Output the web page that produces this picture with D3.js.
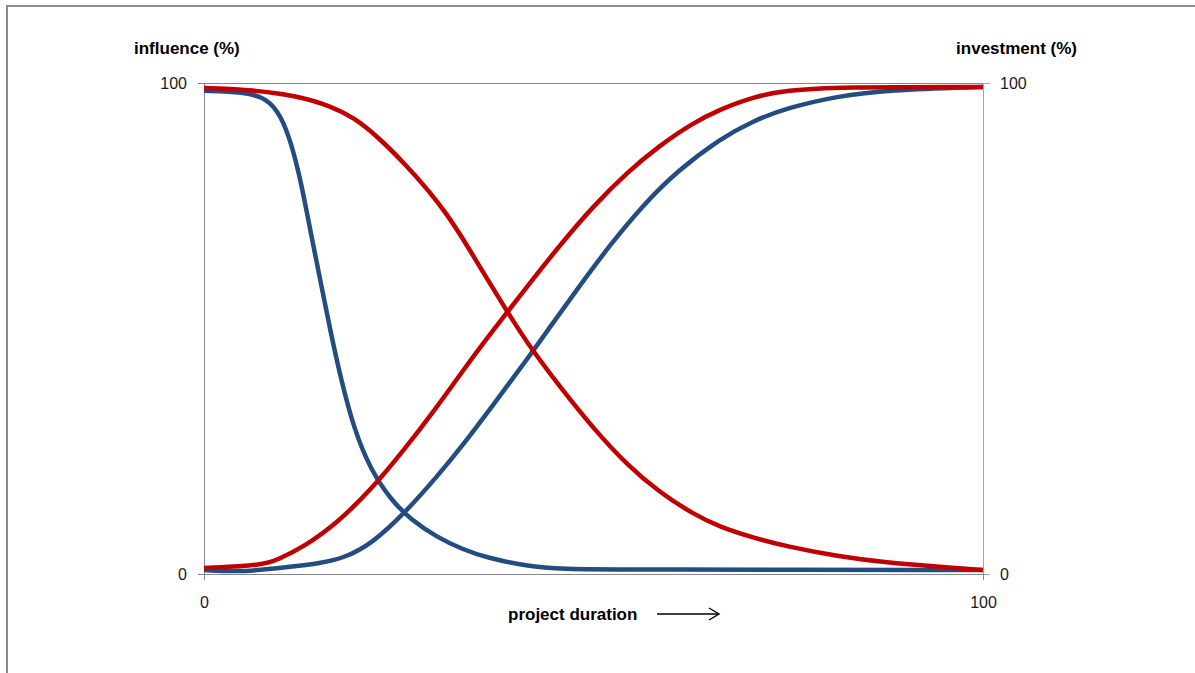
<!DOCTYPE html>
<html>
<head>
<meta charset="utf-8">
<script src="https://cdn.jsdelivr.net/npm/d3@7"></script>
<style>
  html, body { margin: 0; padding: 0; background: #fff; }
  svg { display: block; }
  text { font-family: "Liberation Sans", Arial, sans-serif; }
</style>
</head>
<body>
<svg id="chart" width="1195" height="673"></svg>
<script>
// ---- data ----
const leftTitle = "influence (%)";
const rightTitle = "investment (%)";
const xTitle = "project duration";
const xTicks = [0, 100];
const yTicks = [0, 100];

// influence curves (left axis)
const blueFalling = [[0,98.4],[5.1,98.2],[8.1,96.9],[9.9,93.3],[11.2,87.8],[12.5,79.6],[13.7,69.5],[15.0,59.3],[16.2,49.7],[17.6,39.5],[19.3,29.3],[21.4,21.2],[24.0,15.1],[26.6,11.0],[29.9,7.5],[33.2,5.0],[36.3,3.3],[41.5,1.6],[45.7,1.0],[55.0,0.9],[100,0.8]];
const redFalling = [[0,99.0],[6.4,98.6],[11.9,97.4],[16.3,95.3],[19.3,92.9],[22.2,89.2],[25.7,83.7],[29.1,77.6],[31.2,73.2],[33.2,68.4],[36.0,61.0],[38.9,53.5],[40.6,49.3],[42.2,45.5],[45.7,38.1],[49.9,29.8],[54.3,22.2],[58.5,16.6],[62.8,12.2],[66.2,9.6],[70.5,7.4],[74.8,5.6],[81.3,3.6],[87.7,2.3],[94.1,1.5],[100,0.8]];
// investment curves (right axis)
const redRising = [[0,1.2],[7.7,1.8],[9.4,2.9],[12.8,5.5],[17.1,10.4],[21.4,17.1],[25.7,25.3],[29.9,34.0],[33.4,41.8],[37.1,49.6],[41.5,58.6],[45.7,67.0],[49.9,74.8],[54.3,81.8],[58.5,87.3],[62.8,91.9],[66.2,94.6],[70.5,97.2],[74.8,98.5],[81.3,99.2],[100,99.2]];
const blueRising = [[0,0.8],[5.1,0.4],[10.7,1.4],[15.0,2.2],[18.0,3.3],[21.4,6.0],[25.7,12.3],[29.9,19.8],[33.4,26.6],[37.1,34.4],[41.5,43.8],[44.2,49.8],[47.9,58.0],[52.1,67.0],[56.4,75.2],[60.7,82.0],[66.2,88.6],[70.5,92.3],[74.8,94.9],[81.3,97.3],[87.7,98.6],[100,99.2]];

const series = [
  { name: "influence-blue", data: blueFalling, color: "#234D80", axis: "left" },
  { name: "investment-blue", data: blueRising, color: "#234D80", axis: "right" },
  { name: "influence-red", data: redFalling, color: "#C00000", axis: "left" },
  { name: "investment-red", data: redRising, color: "#C00000", axis: "right" }
];

// ---- layout ----
const svg = d3.select("#chart");
const L = 204, R = 983, T = 83, B = 574;

// outer frame
svg.append("rect").attr("x", 7).attr("y", 6).attr("width", 1200).attr("height", 700)
  .attr("fill", "#fff").attr("stroke", "#8c8c8c").attr("stroke-width", 2);

const x = d3.scaleLinear().domain([0, 100]).range([L, R]);
const yL = d3.scaleLinear().domain([0, 100]).range([B, T]);
const yR = d3.scaleLinear().domain([0, 100]).range([B, T]);

// gridline at 100
svg.append("g").selectAll("line").data(yTicks.filter(d => d > 0)).join("line")
  .attr("x1", L).attr("x2", R).attr("y1", d => yL(d)).attr("y2", d => yL(d))
  .attr("stroke", "#868686").attr("stroke-width", 1).attr("shape-rendering", "crispEdges");

function styleAxis(g, col) {
  g.selectAll(".domain").attr("stroke", col);
  g.selectAll(".tick line").attr("stroke", col);
  g.selectAll(".tick text").attr("fill", "#1a1a1a").style("font-size", "16px")
    .style("font-family", '"Liberation Sans", Arial, sans-serif');
  g.attr("shape-rendering", "crispEdges");
}

const gL = svg.append("g").attr("transform", `translate(${L},0)`)
  .call(d3.axisLeft(yL).tickValues(yTicks).tickSize(6).tickSizeOuter(0).tickPadding(11));
styleAxis(gL, "#868686");

const gR = svg.append("g").attr("transform", `translate(${R},0)`)
  .call(d3.axisRight(yR).tickValues(yTicks).tickSize(7).tickSizeOuter(0).tickPadding(10));
styleAxis(gR, "#a6a6a6");

const gB = svg.append("g").attr("transform", `translate(0,${B})`)
  .call(d3.axisBottom(x).tickValues(xTicks).tickSize(6).tickSizeOuter(0).tickPadding(17));
styleAxis(gB, "#868686");

// lines
const plot = svg.append("g");
series.forEach(s => {
  const ys = s.axis === "left" ? yL : yR;
  const line = d3.line().x(d => x(d[0])).y(d => ys(d[1])).curve(d3.curveBasis);
  plot.append("path").datum(s.data).attr("d", line)
    .attr("fill", "none").attr("stroke", s.color).attr("stroke-width", 4.5)
    .attr("stroke-linejoin", "round").attr("stroke-linecap", "butt");
});

// titles
svg.append("text").attr("x", 134).attr("y", 54).text(leftTitle)
  .style("font-size", "17px").style("font-weight", "bold").attr("fill", "#000");
svg.append("text").attr("x", 1077).attr("y", 54).attr("text-anchor", "end").text(rightTitle)
  .style("font-size", "17px").style("font-weight", "bold").attr("fill", "#000");
svg.append("text").attr("x", 508).attr("y", 620).text(xTitle)
  .style("font-size", "17px").style("font-weight", "bold").attr("fill", "#000");

// arrow
const ar = svg.append("g").attr("stroke", "#000").attr("stroke-width", 1.4).attr("fill", "none");
ar.append("line").attr("x1", 657).attr("x2", 719).attr("y1", 614).attr("y2", 614);
ar.append("path").attr("d", "M709,608 L719,614 L709,620");
</script>
</body>
</html>
